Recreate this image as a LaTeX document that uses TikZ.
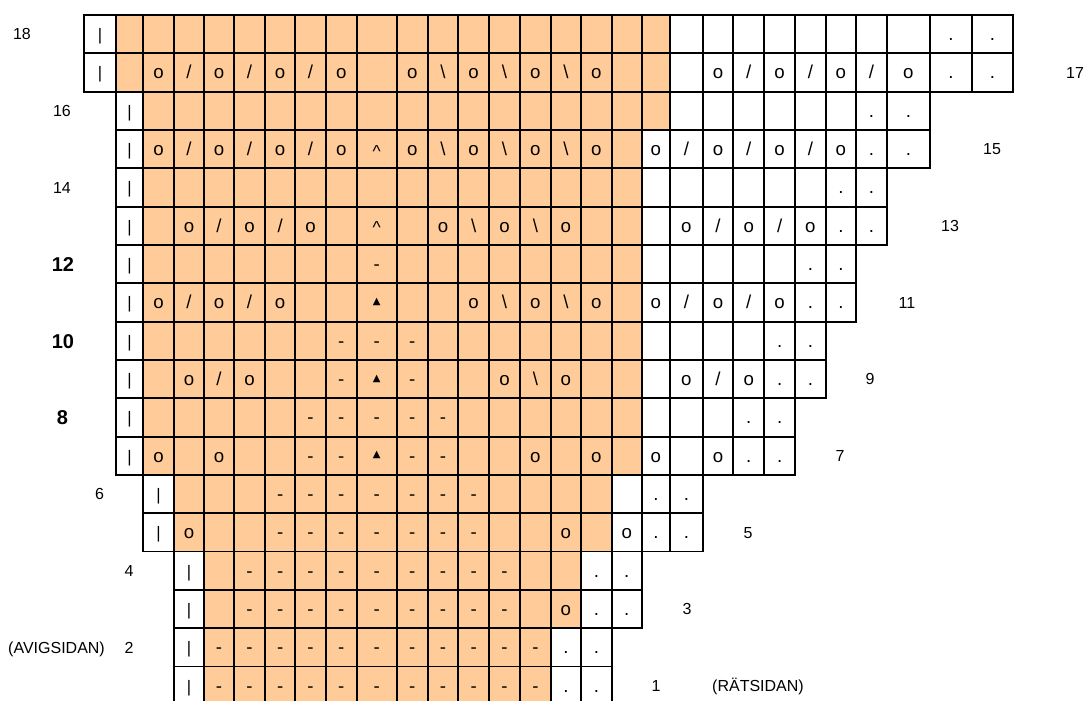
\documentclass[tikz,border=0pt]{standalone}
\usepackage{fontspec}
\setmainfont{Liberation Sans}
\newfontfamily\trifont{DejaVu Sans}
\definecolor{peach}{HTML}{FFCC99}
% column boundaries (px)
\def\Bx{{84,116,143.3,174,204,234,265,295.3,325.7,356.7,396.7,427.7,458.3,489,520,550.7,581,611.7,641.7,670,702.7,733.3,764.3,795,825.7,856,886.7,930,971.7,1013}}
\def\RH{38.33}
% cell symbols
\def\symn{}
\def\symL{\fontsize{12.5}{12.5}\selectfont|}
\def\symo{o}
\def\syms{/}
\def\symb{\textbackslash}
\def\symd{-}
\def\symp{.}
\def\symc{\raisebox{-1.4pt}{\fontsize{13}{13}\selectfont\textasciicircum}}
\def\symt{\raisebox{3.3pt}{\trifont\fontsize{7.5}{7.5}\selectfont ▲}}
% one row: #1 row, #2 first col, #3 last orange col, #4 codes
\newcommand\fillrow[4]{%
  \foreach \code [count=\k from 0] in {#4} {%
    \pgfmathtruncatemacro\cc{#2+\k}%
    \pgfmathsetmacro\xl{\Bx[\cc]}%
    \pgfmathsetmacro\xr{\Bx[\cc+1]}%
    \pgfmathsetmacro\yt{15+(18-#1)*\RH}%
    \ifnum\cc>#3 \def\fc{white}\else\ifnum\cc=#2 \def\fc{white}\else\def\fc{peach}\fi\fi
    \path[fill=\fc] (\xl,\yt) rectangle (\xr,\yt+\RH);
    \node[sym] (r#1c\cc) at ({(\xl+\xr)/2},\yt+\RH/2+6.3) {\csname sym\code\endcsname};
  }%
}
\newcommand\drawrow[4]{%
  \foreach \code [count=\k from 0] in {#4} {%
    \pgfmathtruncatemacro\cc{#2+\k}%
    \pgfmathsetmacro\xl{\Bx[\cc]}%
    \pgfmathsetmacro\xr{\Bx[\cc+1]}%
    \pgfmathsetmacro\yt{15+(18-#1)*\RH}%
    \path[gridline] (\xl,\yt) rectangle (\xr,\yt+\RH);
  }%
}
\newcommand\allrows[1]{%
  #1{18}{0}{18}{L,n,n,n,n,n,n,n,n,n,n,n,n,n,n,n,n,n,n,n,n,n,n,n,n,n,n,p,p}%
  #1{17}{0}{18}{L,n,o,s,o,s,o,s,o,n,o,b,o,b,o,b,o,n,n,n,o,s,o,s,o,s,o,p,p}%
  #1{16}{1}{18}{L,n,n,n,n,n,n,n,n,n,n,n,n,n,n,n,n,n,n,n,n,n,n,n,p,p}%
  #1{15}{1}{17}{L,o,s,o,s,o,s,o,c,o,b,o,b,o,b,o,n,o,s,o,s,o,s,o,p,p}%
  #1{14}{1}{17}{L,n,n,n,n,n,n,n,n,n,n,n,n,n,n,n,n,n,n,n,n,n,n,p,p}%
  #1{13}{1}{17}{L,n,o,s,o,s,o,n,c,n,o,b,o,b,o,n,n,n,o,s,o,s,o,p,p}%
  #1{12}{1}{17}{L,n,n,n,n,n,n,n,d,n,n,n,n,n,n,n,n,n,n,n,n,n,p,p}%
  #1{11}{1}{17}{L,o,s,o,s,o,n,n,t,n,n,o,b,o,b,o,n,o,s,o,s,o,p,p}%
  #1{10}{1}{17}{L,n,n,n,n,n,n,d,d,d,n,n,n,n,n,n,n,n,n,n,n,p,p}%
  #1{9}{1}{17}{L,n,o,s,o,n,n,d,t,d,n,n,o,b,o,n,n,n,o,s,o,p,p}%
  #1{8}{1}{17}{L,n,n,n,n,n,d,d,d,d,d,n,n,n,n,n,n,n,n,n,p,p}%
  #1{7}{1}{17}{L,o,n,o,n,n,d,d,t,d,d,n,n,o,n,o,n,o,n,o,p,p}%
  #1{6}{2}{16}{L,n,n,n,d,d,d,d,d,d,d,n,n,n,n,n,p,p}%
  #1{5}{2}{16}{L,o,n,n,d,d,d,d,d,d,d,n,n,o,n,o,p,p}%
  #1{4}{3}{15}{L,n,d,d,d,d,d,d,d,d,d,n,n,p,p}%
  #1{3}{3}{15}{L,n,d,d,d,d,d,d,d,d,d,n,o,p,p}%
  #1{2}{3}{14}{L,d,d,d,d,d,d,d,d,d,d,d,p,p}%
  #1{1}{3}{14}{L,d,d,d,d,d,d,d,d,d,d,d,p,p}%
}
\begin{document}
\begin{tikzpicture}[x=0.75pt,y=-0.75pt,
  gridline/.style={draw=black,line width=1.3pt},
  sym/.style={anchor=base,inner sep=0pt,font=\fontsize{14}{14}\selectfont},
  rowlab/.style={anchor=base,inner sep=0pt,font=\fontsize{12}{12}\selectfont},
  boldlab/.style={anchor=base,inner sep=0pt,font=\fontsize{15}{15}\selectfont\bfseries}]
\useasboundingbox (0,0) rectangle (1087,700);
\clip (0,0) rectangle (1087,700);
\allrows\fillrow
\allrows\drawrow
% row labels (baseline = row centre + cap/2)
\newcommand\yc[1]{15+(18-#1)*\RH+\RH/2}
\node[rowlab]  (l18) at (22,  {\yc{18}+5.7}) {18};
\node[rowlab]  (l17) at (1075,{\yc{17}+5.7}) {17};
\node[rowlab]  (l16) at (62,  {\yc{16}+5.7}) {16};
\node[rowlab]  (l15) at (992, {\yc{15}+5.7}) {15};
\node[rowlab]  (l14) at (62,  {\yc{14}+5.7}) {14};
\node[rowlab]  (l13) at (950, {\yc{13}+5.7}) {13};
\node[boldlab] (l12) at (63,  {\yc{12}+7.2}) {12};
\node[rowlab]  (l11) at (907, {\yc{11}+5.7}) {11};
\node[boldlab] (l10) at (63,  {\yc{10}+7.2}) {10};
\node[rowlab]  (l9)  at (870, {\yc{9}+5.7}) {9};
\node[boldlab] (l8)  at (62.5,{\yc{8}+7.2}) {8};
\node[rowlab]  (l7)  at (840, {\yc{7}+5.7}) {7};
\node[rowlab]  (l6)  at (99.5,{\yc{6}+5.7}) {6};
\node[rowlab]  (l5)  at (748, {\yc{5}+5.7}) {5};
\node[rowlab]  (l4)  at (129, {\yc{4}+5.7}) {4};
\node[rowlab]  (l3)  at (687, {\yc{3}+5.7}) {3};
\node[rowlab]  (l2)  at (129, {\yc{2}+5.7}) {2};
\node[rowlab]  (avig) at (56.5,{\yc{2}+5.7}) {(AVIGSIDAN)};
\node[rowlab]  (l1)  at (656, {\yc{1}+5.7}) {1};
\node[rowlab]  (rats) at (758, {\yc{1}+5.7}) {(RÄTSIDAN)};
\end{tikzpicture}
\end{document}
